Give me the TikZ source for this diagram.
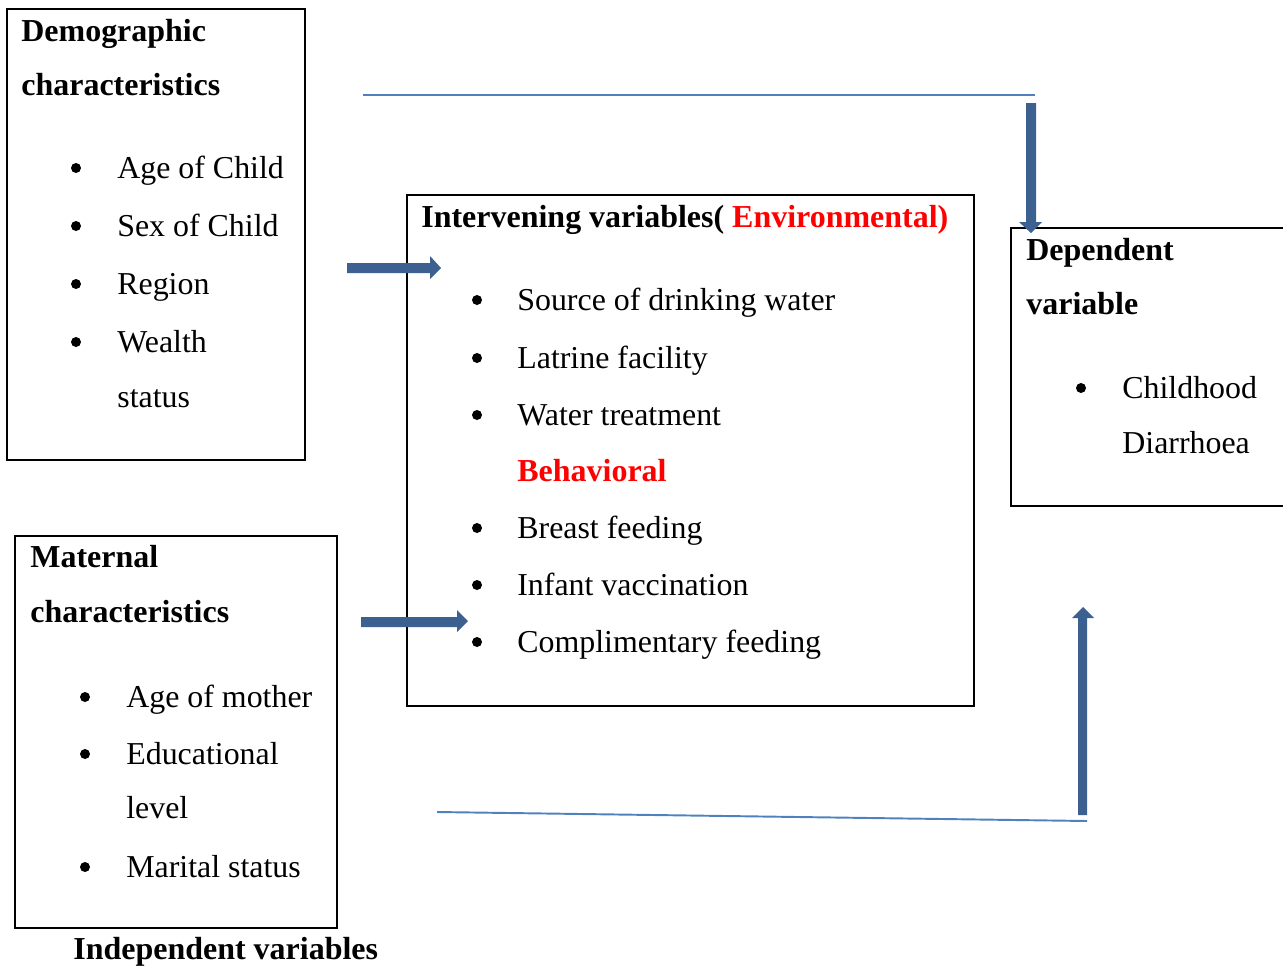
\documentclass[tikz,border=0pt]{standalone}
\usepackage{fontspec}
\setmainfont{Liberation Serif}
\definecolor{arrowblue}{HTML}{3C6090}
\definecolor{lineblue}{HTML}{4F81BD}
\definecolor{redtxt}{HTML}{FF0000}
\tikzset{
  txt/.style={anchor=base west, inner sep=0pt, font=\fontsize{18.15}{20}\selectfont},
  hd/.style={anchor=base west, inner sep=0pt, font=\fontsize{18.2}{20}\selectfont\bfseries},
  boxline/.style={draw=black, line width=1.1pt},
  bul/.style={circle, fill=black, inner sep=0pt, minimum size=0.2cm},
  thinline/.style={draw=lineblue, line width=1.1pt},
  blockarrow/.style={fill=arrowblue, draw=none}
}
\newcommand{\myitem}[5]{% name, bullet x, text x, center y, text
  \node[bul] (#1b) at (#2,#4+1) {};
  \node[txt] (#1) at (#3,#4+11) {#5};
}
\begin{document}
\begin{tikzpicture}[x=0.02cm,y=-0.02cm]
\useasboundingbox (0,0) rectangle (1283,967);
\clip (0,0) rectangle (1283,967);
% boxes
\draw[boxline] (7,9) rectangle (305,460);
\draw[boxline] (407,195) rectangle (974,706);
\draw[boxline] (1290,228) -- (1011,228) -- (1011,506) -- (1290,506);
\draw[boxline] (15,536) rectangle (337,928);
% demographic
\node[hd] (demo1) at (21,41) {Demographic};
\node[hd] (demo2) at (21,95) {characteristics};
\myitem{d1}{76}{117}{167}{Age of Child}
\myitem{d2}{76}{117}{225}{Sex of Child}
\myitem{d3}{76}{117}{283}{Region}
\myitem{d4}{76}{117}{341}{Wealth}
\node[txt] (d5) at (117,407) {status};
% intervening
\node[hd] (int1) at (421,227) {Intervening variables( \textcolor{redtxt}{Environmental)}};
\myitem{i1}{477}{517}{299}{Source of drinking water}
\myitem{i2}{477}{517}{357}{Latrine facility}
\myitem{i3}{477}{517}{414}{Water treatment}
\node[hd, text=redtxt] (beh) at (517,481) {Behavioral};
\myitem{i4}{477}{517}{527}{Breast feeding}
\myitem{i5}{477}{517}{584}{Infant vaccination}
\myitem{i6}{477}{517}{641}{Complimentary feeding}
% dependent
\node[hd] (dep1) at (1026,260) {Dependent};
\node[hd] (dep2) at (1026,314) {variable};
\myitem{p1}{1081}{1122}{387}{Childhood}
\node[txt] (p2) at (1122,453) {Diarrhoea};
% maternal
\node[hd] (mat1) at (30,567) {Maternal};
\node[hd] (mat2) at (30,622) {characteristics};
\myitem{m1}{85}{126}{696}{Age of mother}
\myitem{m2}{85}{126}{753}{Educational}
\node[txt] (m3) at (126,818) {level};
\myitem{m4}{85}{126}{866}{Marital status}
\node[hd] (indep) at (73,959) {Independent variables};
% connector lines
\coordinate (tl1) at (363,95);
\coordinate (tl2) at (1035,95);
\draw[thinline] (tl1) -- (tl2);
\coordinate (bl1) at (437,812);
\coordinate (bl2) at (1087,821);
\draw[thinline] (bl1) -- (bl2);
% block arrows
\fill[blockarrow] (347,263) -- (430,263) -- (430,256) -- (441,268) -- (430,279) -- (430,273) -- (347,273) -- cycle;
\fill[blockarrow] (361,617) -- (457,617) -- (457,610) -- (468,621) -- (457,632) -- (457,627) -- (361,627) -- cycle;
\fill[blockarrow] (1026,103) -- (1036,103) -- (1036,222) -- (1042,222) -- (1031,233) -- (1019,222) -- (1026,222) -- cycle;
\fill[blockarrow] (1078,815) -- (1087,815) -- (1087,618) -- (1094,618) -- (1083,607) -- (1072,618) -- (1078,618) -- cycle;
\end{tikzpicture}
\end{document}
